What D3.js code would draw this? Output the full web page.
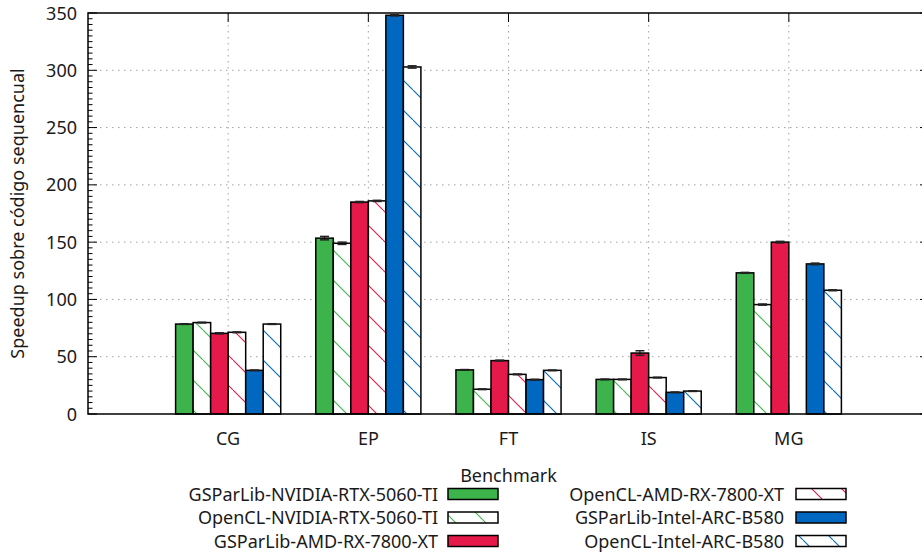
<!DOCTYPE html>
<html>
<head>
<meta charset="utf-8">
<script src="https://cdn.jsdelivr.net/npm/d3@7"></script>
<style>
  body { margin: 0; background: #fff; }
  svg { display: block; font-family: "Noto Sans", sans-serif; }
</style>
</head>
<body>
<div id="chart"></div>
<script>
const benchmarks = ["CG", "EP", "FT", "IS", "MG"];

const seriesNames = [
  "GSParLib-NVIDIA-RTX-5060-TI",
  "OpenCL-NVIDIA-RTX-5060-TI",
  "GSParLib-AMD-RX-7800-XT",
  "OpenCL-AMD-RX-7800-XT",
  "GSParLib-Intel-ARC-B580",
  "OpenCL-Intel-ARC-B580"
];
const seriesColors = ["#3cb44b", "#3cb44b", "#e6194b", "#e6194b", "#0068c0", "#0068c0"];
const seriesHatched = [false, true, false, true, false, true];

// speedup per series, in benchmark order
const speedups = [
  [78.5, 153.5, 38.5, 30.2, 123.2],
  [79.8, 149.0, 21.6, 30.2, 95.5],
  [70.4, 185.0, 46.6, 53.2, 150.0],
  [71.3, 186.0, 34.6, 31.8, 0],
  [38.1, 348.0, 30.0, 18.9, 131.0],
  [78.5, 302.9, 38.1, 20.0, 108.0]
];
const errors = [
  [0.3, 1.5, 0.3, 0.3, 0.4],
  [0.3, 1.0, 0.3, 0.3, 0.5],
  [0.5, 0.5, 0.4, 2.0, 0.7],
  [0.3, 0.5, 0.3, 0.3, 0],
  [0.3, 0.5, 0.3, 0.3, 0.7],
  [0.3, 1.0, 0.3, 0.3, 0.4]
];

const yTicks = [0, 50, 100, 150, 200, 250, 300, 350];

const W = 922, H = 557;
const pLeft = 88, pRight = 929, pTop = 13, pBottom = 414;
const fs = 18;

const svg = d3.select("#chart").append("svg")
  .attr("width", W)
  .attr("height", H);

const x = d3.scaleLinear().domain([-1, 5]).range([pLeft, pRight]);
const y = d3.scaleLinear().domain([0, 350]).range([pBottom, pTop]);
const barW = 0.125;

// hatch patterns, anchored to the page
const defs = svg.append("defs");
seriesColors.forEach((c, i) => {
  if (!seriesHatched[i]) return;
  let p = defs.append("pattern")
    .attr("id", "hatch" + i)
    .attr("patternUnits", "userSpaceOnUse")
    .attr("x", 23)
    .attr("y", 0)
    .attr("width", 30)
    .attr("height", 30);
  p.append("rect").attr("width", 30).attr("height", 30).attr("fill", "#fff");
  p.append("line")
    .attr("x1", -1).attr("y1", -1).attr("x2", 31).attr("y2", 31)
    .attr("stroke", c).attr("stroke-width", 1.1);
});

function fillFor(i) {
  return seriesHatched[i] ? "url(#hatch" + i + ")" : seriesColors[i];
}

// grid
let grid = svg.append("g")
  .attr("stroke", "#a0a0a0")
  .attr("stroke-width", 1)
  .attr("stroke-dasharray", "1.5,4.5");

grid.selectAll(".gy")
  .data(yTicks.filter(d => d > 0 && d < 350))
  .join("line")
  .attr("x1", pLeft).attr("x2", pRight)
  .attr("y1", d => y(d)).attr("y2", d => y(d));

grid.selectAll(".gx")
  .data(benchmarks)
  .join("line")
  .attr("x1", (d, i) => x(i)).attr("x2", (d, i) => x(i))
  .attr("y1", pTop).attr("y2", pBottom);

// bars
let bars = svg.append("g");
seriesNames.forEach((name, s) => {
  let g = bars.append("g");
  let rows = speedups[s].map((v, i) => ({ i: i, v: v, e: errors[s][i] })).filter(d => d.v > 0);

  g.selectAll("rect")
    .data(rows)
    .join("rect")
    .attr("x", d => x(d.i - 3 * barW + s * barW))
    .attr("y", d => y(d.v))
    .attr("width", x(barW) - x(0))
    .attr("height", d => y(0) - y(d.v))
    .attr("fill", fillFor(s))
    .attr("stroke", "#000")
    .attr("stroke-width", 1.5);

  let cx = d => x(d.i - 3 * barW + (s + 0.5) * barW);
  g.selectAll(".err")
    .data(rows)
    .join("line")
    .attr("class", "err")
    .attr("x1", cx).attr("x2", cx)
    .attr("y1", d => y(d.v - d.e)).attr("y2", d => y(d.v + d.e))
    .attr("stroke", "#000").attr("stroke-width", 1);
  g.selectAll(".capt")
    .data(rows)
    .join("line")
    .attr("class", "capt")
    .attr("x1", d => cx(d) - 4.5).attr("x2", d => cx(d) + 4.5)
    .attr("y1", d => y(d.v + d.e)).attr("y2", d => y(d.v + d.e))
    .attr("stroke", "#222").attr("stroke-width", 1.5);
  g.selectAll(".capb")
    .data(rows)
    .join("line")
    .attr("class", "capb")
    .attr("x1", d => cx(d) - 4.5).attr("x2", d => cx(d) + 4.5)
    .attr("y1", d => y(d.v - d.e)).attr("y2", d => y(d.v - d.e))
    .attr("stroke", "#222").attr("stroke-width", 1.5);
});

// border and ticks
let axes = svg.append("g").attr("stroke", "#000").attr("fill", "none");
axes.append("path")
  .attr("d", `M${pRight},${pTop}H${pLeft}V${pBottom}H${pRight}V${pTop}`)
  .attr("stroke-width", 1.5);

let minor = d3.range(0, 351, 5);
axes.selectAll(".ty")
  .data(minor)
  .join("line")
  .attr("class", "ty")
  .attr("x1", pLeft)
  .attr("x2", d => pLeft + (d % 50 === 0 ? 9 : 4.5))
  .attr("y1", d => y(d)).attr("y2", d => y(d))
  .attr("stroke-width", 1);
axes.selectAll(".tyr")
  .data(minor)
  .join("line")
  .attr("class", "tyr")
  .attr("x1", pRight)
  .attr("x2", d => pRight - (d % 50 === 0 ? 9 : 4.5))
  .attr("y1", d => y(d)).attr("y2", d => y(d))
  .attr("stroke-width", 1);
axes.selectAll(".tx")
  .data(benchmarks)
  .join("line")
  .attr("class", "tx")
  .attr("x1", (d, i) => x(i)).attr("x2", (d, i) => x(i))
  .attr("y1", pBottom).attr("y2", pBottom - 9)
  .attr("stroke-width", 1);
axes.selectAll(".txt")
  .data(benchmarks)
  .join("line")
  .attr("class", "txt")
  .attr("x1", (d, i) => x(i)).attr("x2", (d, i) => x(i))
  .attr("y1", pTop).attr("y2", pTop + 9)
  .attr("stroke-width", 1);

// tick labels
svg.append("g")
  .attr("font-size", fs)
  .attr("fill", "#1a1a1a")
  .attr("text-anchor", "end")
  .selectAll("text")
  .data(yTicks)
  .join("text")
  .attr("x", 77)
  .attr("y", d => y(d) + 6.5)
  .text(d => d);

svg.append("g")
  .attr("font-size", fs)
  .attr("fill", "#1a1a1a")
  .attr("text-anchor", "middle")
  .selectAll("text")
  .data(benchmarks)
  .join("text")
  .attr("x", (d, i) => x(i))
  .attr("y", 444.5)
  .text(d => d);

svg.append("text")
  .attr("transform", `translate(24,${(pTop + pBottom) / 2}) rotate(-90)`)
  .attr("text-anchor", "middle")
  .attr("font-size", fs)
  .attr("fill", "#1a1a1a")
  .text("Speedup sobre código sequencual");

svg.append("text")
  .attr("x", (pLeft + pRight) / 2)
  .attr("y", 482)
  .attr("text-anchor", "middle")
  .attr("font-size", fs)
  .attr("fill", "#1a1a1a")
  .text("Benchmark");

// legend
let legend = svg.append("g").attr("font-size", fs).attr("fill", "#1a1a1a");
seriesNames.forEach((name, s) => {
  let col = s < 3 ? 0 : 1;
  let row = s % 3;
  let textX = col === 0 ? 438 : 784;
  let boxX = col === 0 ? 448 : 796;
  let cy = 494 + row * 23.5;

  legend.append("text")
    .attr("x", textX)
    .attr("y", cy + 6.5)
    .attr("text-anchor", "end")
    .text(name);

  legend.append("rect")
    .attr("x", boxX)
    .attr("y", cy - 5.5)
    .attr("width", 50)
    .attr("height", 11)
    .attr("fill", fillFor(s))
    .attr("stroke", "#000")
    .attr("stroke-width", 1.5);
});
</script>
</body>
</html>
